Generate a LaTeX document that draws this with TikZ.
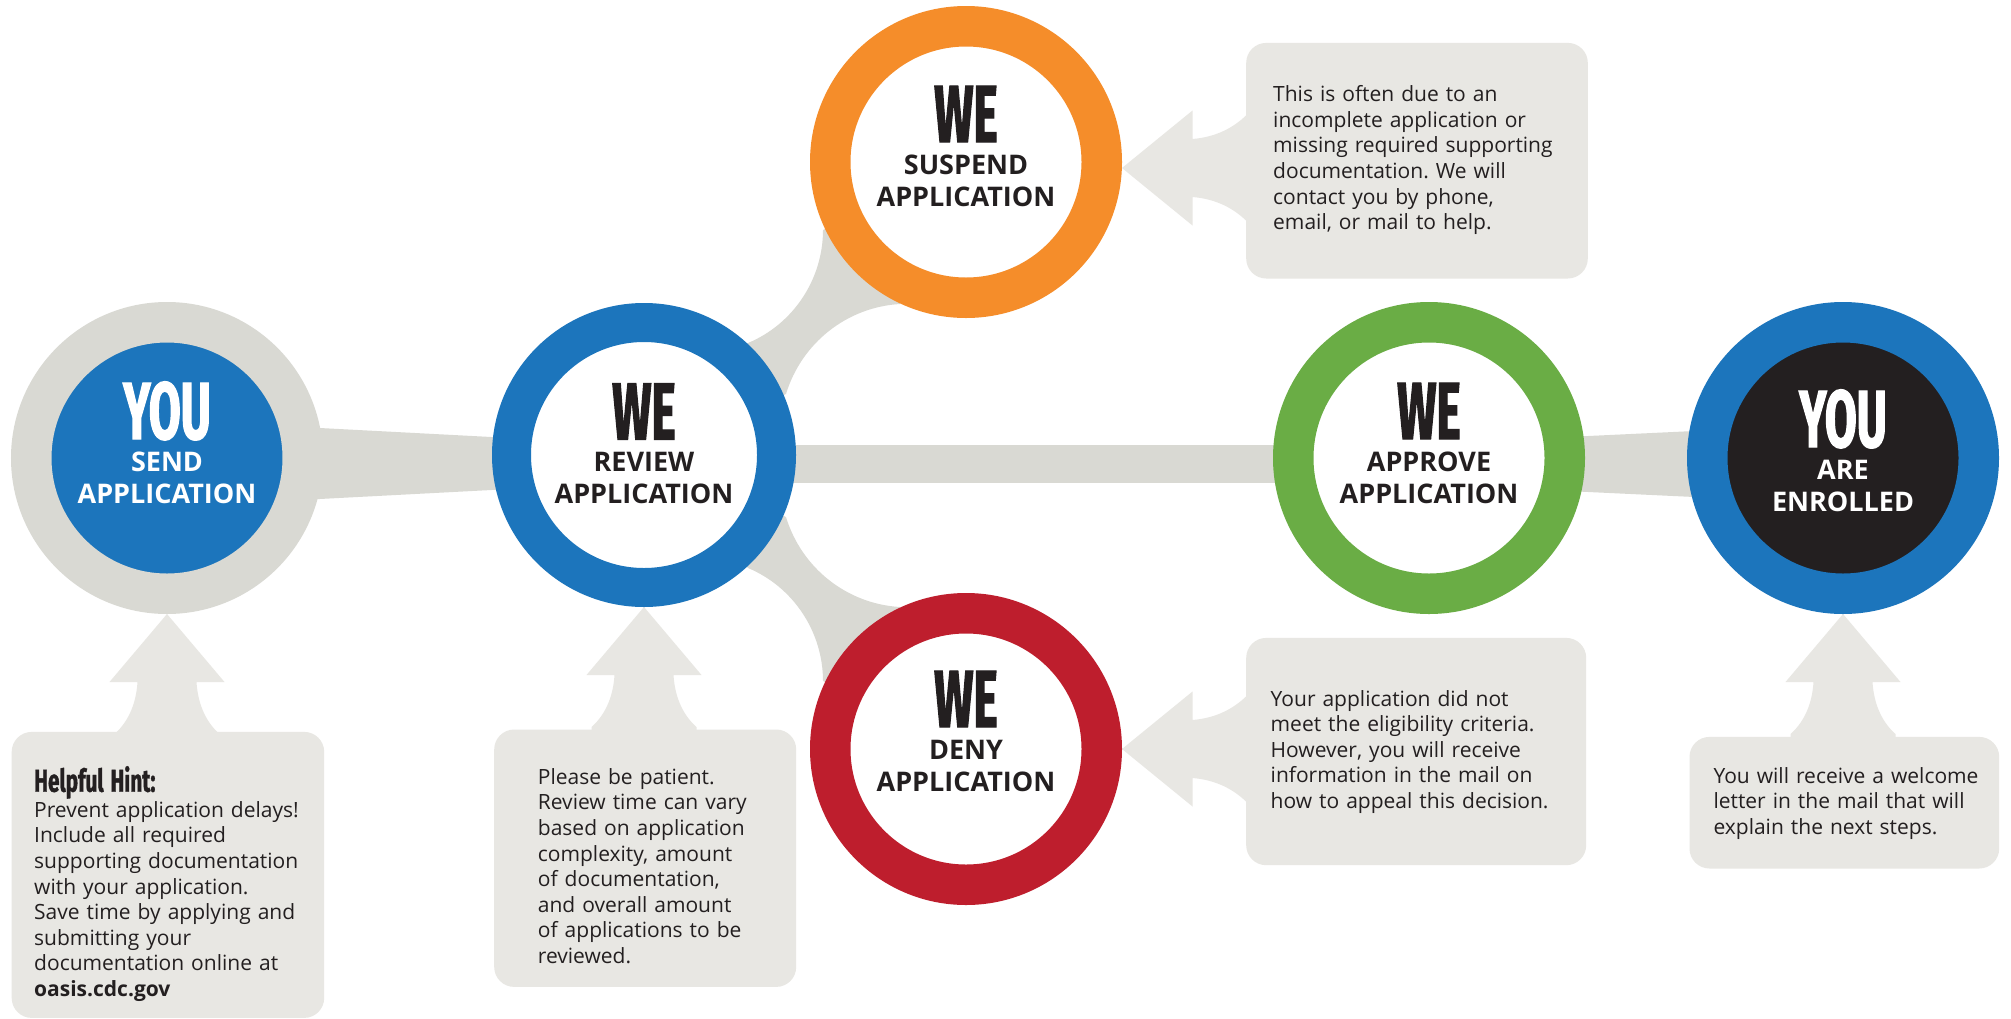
\documentclass[tikz,border=0pt]{standalone}
\usepackage{fontspec}
\setmainfont{Open Sans}
\newfontfamily\headfont[FakeStretch=0.57,FakeBold=1.5]{Fira Sans}
\newfontfamily\hintfont[FakeStretch=0.66,FakeBold=1.2]{Fira Sans}
\usetikzlibrary{backgrounds}
\frenchspacing

\definecolor{cdcblue}{HTML}{1C75BC}
\definecolor{cdcorange}{HTML}{F58D2A}
\definecolor{cdcred}{HTML}{BE1E2D}
\definecolor{cdcgreen}{HTML}{6AAD45}
\definecolor{cdcdark}{HTML}{231F20}
\definecolor{linkgray}{HTML}{D9D9D3}
\definecolor{notegray}{HTML}{E8E7E3}

% pointer from a note up to a step
\newcommand{\pointerup}[1]{%
  \fill[note, shift={(#1)}] (0,0) -- (57.5,68) -- (29.5,68)
    .. controls (31,93) and (41,110) .. (52.5,120) -- (52.5,132)
    -- (-52.5,132) -- (-52.5,120)
    .. controls (-41,110) and (-31,93) .. (-29.5,68) -- (-57.5,68) -- cycle;}
% pointer from a note left to a step
\newcommand{\pointerleft}[1]{%
  \fill[note, shift={(#1)}] (0,0) -- (70.5,-57.5) -- (70.5,-29)
    .. controls (95,-31) and (112,-41) .. (124,-52.5) -- (136,-52.5)
    -- (136,52.5) -- (124,52.5)
    .. controls (112,41) and (95,31) .. (70.5,29) -- (70.5,57.5) -- cycle;}
\newcommand{\bigword}[1]{{\headfont\bfseries\fontsize{81}{81}\selectfont #1}}

\begin{document}
\begin{tikzpicture}[x=1pt,y=-1pt,
  ring/.style={circle, draw=#1, line width=40.5pt, fill=white,
    minimum size=271.5pt, inner sep=0pt},
  link/.style={fill=linkgray},
  note/.style={fill=notegray},
  notebox/.style={fill=notegray, rounded corners=20pt, inner sep=0pt,
    anchor=north west},
  steptext/.style={font=\bfseries\fontsize{27}{32}\selectfont, text=#1,
    align=center, text width=240pt, inner sep=0pt, anchor=base},
  body/.style={font=\fontsize{21}{25.6}\selectfont, text=cdcdark,
    align=left, text width=340pt, inner sep=0pt, anchor=base west}]
\useasboundingbox (0,0) rectangle (2011,1018);

% steps
\node[ring=linkgray, fill=cdcblue] (send) at (167,458) {};
\node[ring=cdcblue, line width=39pt, minimum size=265pt] (review) at (644,455) {};
\node[ring=cdcorange] (suspend) at (966,162) {};
\node[ring=cdcred] (deny) at (966,749) {};
\node[ring=cdcgreen] (approve) at (1429,458) {};
\node[ring=cdcblue, fill=cdcdark] (enrolled) at (1843,458) {};

\node[steptext=white] (sendtext) at ([yshift=19pt]send.center)
  {\bigword{YOU}\\ SEND\\ APPLICATION};
\node[steptext=cdcdark] (reviewtext) at ([yshift=15.5pt]review.center)
  {\bigword{WE}\\ REVIEW\\ APPLICATION};
\node[steptext=cdcdark] (suspendtext) at ([yshift=20pt]suspend.center)
  {\bigword{WE}\\ SUSPEND\\ APPLICATION};
\node[steptext=cdcdark] (denytext) at ([yshift=22pt]deny.center)
  {\bigword{WE}\\ DENY\\ APPLICATION};
\node[steptext=cdcdark] (approvetext) at ([yshift=19pt]approve.center)
  {\bigword{WE}\\ APPROVE\\ APPLICATION};
\node[steptext=white] (enrolledtext) at ([yshift=11pt]enrolled.center)
  {\bigword{YOU}\\ ARE\\ ENROLLED};

\begin{scope}[on background layer]
  \fill[white] (0,0) rectangle (2011,1018);
  % links between the steps
  \fill[link] ([yshift=38pt]send.center) -- ([yshift=10pt]review.center)
    -- ([yshift=-27pt]review.center) -- ([yshift=-49pt]send.center) -- cycle;
  \fill[link] ([yshift=10pt]review.center) -- ([yshift=13pt]approve.center)
    -- ([yshift=-25pt]approve.center) -- ([yshift=-28pt]review.center) -- cycle;
  \fill[link] ([yshift=14.5pt]approve.center) -- ([yshift=34pt]enrolled.center)
    -- ([yshift=-46pt]enrolled.center) -- ([yshift=-26.5pt]approve.center) -- cycle;
  \fill[link] (review.center) -- (748,343) .. controls (793.5,324) and (823,279) .. (823,230)
    -- (suspend.center) -- (900,304) .. controls (847,307) and (801.5,343) .. (786,394) -- cycle;
  \fill[link] (review.center) -- (748,568) .. controls (793.5,587) and (823,632) .. (823,681)
    -- (deny.center) -- (900,607) .. controls (847,604) and (801.5,568) .. (786,517) -- cycle;
  % notes
  \node[notebox, minimum width=312.5pt, minimum height=286pt] (sendbox) at (11.5,731.7) {};
  \node[notebox, minimum width=302pt, minimum height=257.4pt] (reviewbox) at (494,729.3) {};
  \node[notebox, minimum width=341.6pt, minimum height=235.6pt] (suspendbox) at (1246,42.7) {};
  \node[notebox, minimum width=340pt, minimum height=227.3pt] (denybox) at (1246,637.7) {};
  \node[notebox, minimum width=309.7pt, minimum height=131.6pt] (enrolledbox) at (1689.3,736.7) {};
  \pointerup{send.south}
  \pointerup{review.south}
  \pointerup{enrolled.south}
  \pointerleft{[yshift=-6pt]suspend.east}
  \pointerleft{deny.east}
\end{scope}

\node[body] (sendnote) at (34,791.7)
  {{\hintfont\bfseries\fontsize{31.5}{25.6}\selectfont Helpful Hint:}\\
   Prevent application delays!\\ Include all required\\
   supporting documentation\\ with your application.\\
   Save time by applying and\\ submitting your\\
   documentation online at\\ \textbf{oasis.cdc.gov}};
\node[body] (reviewnote) at (537.7,784.3)
  {Please be patient.\\ Review time can vary\\ based on application\\
   complexity, amount\\ of documentation,\\ and overall amount\\
   of applications to be\\ reviewed.};
\node[body] (suspendnote) at (1273,101.7)
  {This is often due to an\\ incomplete application or\\
   missing required supporting\\ documentation. We will\\
   contact you by phone,\\ email, or mail to help.};
\node[body] (denynote) at (1270.5,706)
  {Your application did not\\ meet the eligibility criteria.\\
   However, you will receive\\ information in the mail on\\
   how to appeal this decision.};
\node[body] (enrollednote) at (1713.3,783.3)
  {You will receive a welcome\\ letter in the mail that will\\
   explain the next steps.};
\end{tikzpicture}
\end{document}
